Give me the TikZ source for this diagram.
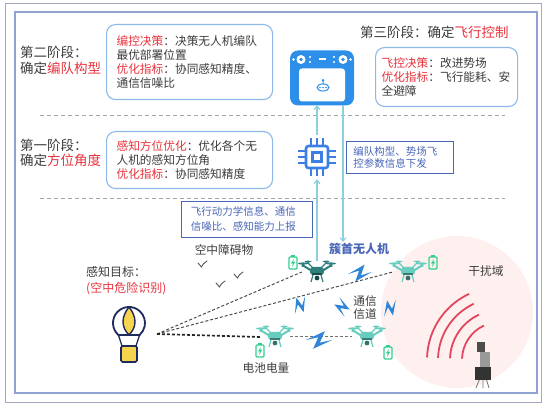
\documentclass[tikz,border=0pt]{standalone}
\usepackage{fontspec}
\setmainfont{Noto Sans CJK SC}
\usetikzlibrary{arrows.meta}

\definecolor{txtgray}{HTML}{3C3C3C}
\definecolor{keyred}{HTML}{E8323C}
\definecolor{boxblue}{HTML}{8DB9E8}
\definecolor{noteblue}{HTML}{4A66B8}
\definecolor{ctrlblue}{HTML}{2E8FE8}
\definecolor{chipblue}{HTML}{3B7FE6}
\definecolor{linkteal}{HTML}{8CCFDD}
\definecolor{leadteal}{HTML}{2E7E7C}
\definecolor{wingteal}{HTML}{66CDBF}
\definecolor{cellgreen}{HTML}{34CF8E}
\definecolor{boltblue}{HTML}{2F86D6}
\definecolor{wavered}{HTML}{E2465E}
\definecolor{framegray}{HTML}{A3AAC2}
\definecolor{frameblue}{HTML}{8FA2D2}
\definecolor{navy}{HTML}{1F2B5E}
\definecolor{gold}{HTML}{F6D44E}

\newcommand{\kw}[1]{\textcolor{keyred}{#1}}

\tikzset{
  stage/.style={align=left, inner sep=0pt, text=txtgray, font=\fontsize{13.5}{15.5}\selectfont},
  infobox/.style={draw=boxblue, line width=1.1pt, rounded corners=9pt, fill=white, align=left,
    inner xsep=10pt, inner ysep=4pt, text=txtgray, font=\fontsize{11.7}{14}\selectfont},
  note/.style={draw=noteblue, line width=0.9pt, fill=white, align=left, inner xsep=7pt,
    text=noteblue, font=\fontsize{10.5}{11.7}\selectfont},
  tag/.style={inner sep=1pt, text=txtgray, font=\fontsize{11.7}{13}\selectfont},
  divider/.style={draw=gray!70, line width=0.9pt, dash pattern=on 4pt off 3pt},
  link/.style={draw=linkteal, line width=1.1pt, -{Straight Barb[length=3.5pt,width=6pt]}},
  sight/.style={draw=black!70, line width=1pt, dash pattern=on 3pt off 2pt},
  dronebox/.style={minimum width=30pt, minimum height=21pt, inner sep=0pt},
  % quadcopter, coloured by the argument
  pics/quad/.style={code={
    \fill[#1] (-14,-8.5) ellipse (5 and 1.1) (14,-8.5) ellipse (5 and 1.1)
              (-9,-10.5) ellipse (3.5 and 0.9) (9,-10.5) ellipse (3.5 and 0.9);
    \draw[#1, line width=2pt] (-14,-6.5) -- (-5,-1) (14,-6.5) -- (5,-1);
    \draw[#1, line width=1.4pt] (-9,-9) -- (-3,-3) (9,-9) -- (3,-3);
    \fill[#1] (-15.3,-8.5) rectangle (-12.7,-5) (12.7,-8.5) rectangle (15.3,-5)
              (-10,-10.5) rectangle (-8,-8) (8,-10.5) rectangle (10,-8);
    \fill[#1, rounded corners=3pt] (-7,-5) rectangle (7,3);
    \fill[#1!60!black] (-5,1) rectangle (5,3.5);
    \draw[#1, line width=1.2pt] (-4,3) -- (-6,10) (4,3) -- (6,10);
    \fill[#1!55!black] (0,6) circle (2.4);
  }},
  pics/cell/.style={code={
    \draw[cellgreen, line width=1.1pt, rounded corners=1pt] (-4,-5) rectangle (4,7);
    \fill[cellgreen] (-1.8,-6.8) rectangle (1.8,-5);
    \fill[cellgreen] (1,-3) -- (-2.2,1.5) -- (-0.2,1.5) -- (-1,5) -- (2.2,0) -- (0.2,0) -- cycle;
  }},
  pics/bolt/.style={code={
    \fill[boltblue] (-12,-1) -- (6,-7.5) -- (0.5,2.5) -- (12,1) -- (-6,7.5) -- (-0.5,-2.5) -- cycle;
  }},
  pics/bird/.style={code={
    \draw[black!65, line width=0.9pt, line cap=round]
      (-4,-2) .. controls (-2,-0.5) .. (-0.5,2) .. controls (1,-1) .. (5,-4);
  }},
  pics/balloon/.style={code={
    \draw[navy, line width=1.3pt] (-10.6,11.9) -- (-7,23) (10.6,11.9) -- (7,23);
    \filldraw[fill=white, draw=navy, line width=1.8pt] (131.8:16) arc (131.8:408.2:16) -- cycle;
    \filldraw[fill=gold, draw=navy, line width=1.4pt]
      (0,-16) .. controls (-8,-6) and (-8,4) .. (0,11.9) .. controls (8,4) and (8,-6) .. (0,-16);
    \filldraw[fill=gold, draw=navy, line width=1.6pt, rounded corners=1.5pt] (-8,23) rectangle (8,39);
  }},
  pics/gamepad/.style={code={
    \fill[ctrlblue, rounded corners=8pt] (-32,-27) rectangle (32,28);
    \fill[white, rounded corners=3pt] (-23,-9) rectangle (23,24);
    \fill[white] (-21,-18) circle (4.5) (21,-18) circle (4.5)
                 (-28.5,-18) circle (1.3) (28.5,-18) circle (1.3)
                 (-12,-20.5) circle (1.1) (-12,-15.5) circle (1.1)
                 (12,-20.5) circle (1.1) (12,-15.5) circle (1.1);
    \fill[ctrlblue] (-21,-18) circle (1.8) (21,-18) circle (1.8);
    \fill[white] (-3.5,-19) rectangle (3.5,-17);
    \draw[ctrlblue, line width=1pt] (1,10) ellipse (6 and 3.5) (1,6.5) -- (1,3.5);
    \fill[ctrlblue] (-2,10) circle (0.9) (1,10) circle (0.9) (4,10) circle (0.9) (1,2.8) circle (1.4);
  }},
  pics/cpu/.style={code={
    \draw[chipblue, line width=2.6pt, rounded corners=2.5pt] (-11,-11) rectangle (11,11);
    \draw[chipblue, line width=2.4pt] (-4.5,-4.5) rectangle (4.5,4.5);
    \foreach \k in {-6,0,6}
      \draw[chipblue, line width=2.2pt] (\k,-12) -- (\k,-19) (\k,12) -- (\k,19)
                                        (-12,\k) -- (-19,\k) (12,\k) -- (19,\k);
  }},
  pics/jammer/.style={code={
    \draw[black!55, line width=0.8pt] (-3,13) -- (-7,23) (0,13) -- (0,23) (3,13) -- (6,23);
    \fill[black!40] (-3,-13) rectangle (7,8);
    \fill[black!70] (-6,-23) rectangle (2,-13);
    \fill[black!80] (-8,2) rectangle (8,15);
  }}
}

\begin{document}
\begin{tikzpicture}[x=1pt, y=-1pt]
\useasboundingbox (0,0) rectangle (544,406);

% frames
\draw[framegray, line width=0.8pt] (5,3) rectangle (541,402);
\draw[frameblue, line width=1.2pt] (15,12) rectangle (537,393);

% interference zone
\fill[red!6] (457,312) circle (76);
\foreach \r in {38,50,62,73}
  \draw[wavered, line width=1.8pt] (500,360) ++(-115:\r) arc (-115:-178:\r);
\pic at (483,365) {jammer};
\node[tag] (zone) at (486,271) {干扰域};

% stage dividers
\draw[divider] (40,115) -- (505,115);
\draw[divider] (40,198) -- (505,198);

% stage 2
\node[stage, anchor=west] (s2) at (20,60.5) {第二阶段：\\确定\kw{编队构型}};
\node[infobox, text width=146pt, minimum height=75pt, anchor=north west] (plan) at (106,24)
  {\kw{编控决策}：决策无人机编队\\最优部署位置\\\kw{优化指标}：协同感知精度、\\通信信噪比};

% stage 3
\node[stage, anchor=west] (s3) at (360,32) {第三阶段：确定\kw{飞行控制}};
\node[infobox, text width=130pt, inner xsep=6pt, minimum height=59pt, anchor=north west] (fly) at (375,47)
  {\kw{飞控决策}：改进势场\\\kw{优化指标}：飞行能耗、安\\全避障};

% stage 1
\node[stage, anchor=west] (s1) at (20,153) {第一阶段：\\确定\kw{方位角度}};
\node[infobox, text width=146pt, minimum height=57pt, anchor=north west] (aim) at (106,131)
  {\kw{感知方位优化}：优化各个无\\人机的感知方位角\\\kw{优化指标}：协同感知精度};

% ground station and processor
\node[minimum width=64pt, minimum height=55pt, inner sep=0pt] (ctrl) at (322,77.5) {};
\pic at (ctrl) {gamepad};
\node[minimum size=44pt, inner sep=0pt] (chip) at (317,157) {};
\pic at (chip) {cpu};

\node[note, text width=93pt, minimum height=32pt, anchor=north west] (down) at (346,141)
  {编队构型、势场飞\\控参数信息下发};
\node[note, text width=112pt, inner xsep=9.5pt, minimum height=36pt, anchor=north west,
  font=\fontsize{10.5}{15}\selectfont] (up) at (181,201)
  {飞行动力学信息、通信\\信噪比、感知能力上报};

% swarm
\node[dronebox] (uavlead) at (317,272) {};
\node[dronebox] (uavr) at (408,272) {};
\node[dronebox] (uavbl) at (275,337) {};
\node[dronebox] (uavbr) at (367,337) {};
\node[tag, font=\bfseries\fontsize{12}{13}\selectfont, text=noteblue] (headtag) at (359,249) {簇首无人机};

% uplink / downlink
\coordinate (feed) at (343,0);
\draw[link] (uavlead.north) -- (chip.south);
\draw[link] (chip.north) -- (ctrl.south -| chip.north);
\draw[link] (ctrl.south -| feed) -- (headtag.north -| feed);

% target and lines of sight
\node[minimum width=34pt, minimum height=56pt, inner sep=0pt] (target) at (129,334) {};
\pic at (129,323) {balloon};
\node[tag, align=left, anchor=west, font=\fontsize{12}{16}\selectfont] (goal) at (85,281)
  {感知目标：\\\kw{(空中危险识别)}};
\coordinate (fan) at (157,334);
\path[draw,sight] (fan) edge (uavlead.west);
\path[draw,sight] (fan) edge (uavr.west);
\path[draw,sight,draw=black!85,line width=1.7pt] (fan) edge (uavbl.west);
\path[draw,sight,draw=black!55] (uavbl.east) edge (uavbr.west);

\pic at (uavlead) {quad=leadteal};
\pic at (uavr) {quad=wingteal};
\pic at (uavbl) {quad=wingteal};
\pic at (uavbr) {quad=wingteal};

\pic at (293,262) {cell};
\pic at (433,262) {cell};
\pic at (260,350) {cell};
\pic at (388,352) {cell};

% links between drones
\pic[rotate=10] at (360,273) {bolt};
\pic[rotate=65, scale=0.85] at (300,305) {bolt};
\pic[rotate=-70, scale=0.85] at (342,307) {bolt};
\pic[rotate=60, scale=0.85] at (390,308) {bolt};
\pic[rotate=5, scale=1.1] at (319,340) {bolt};
\node[tag, align=center, font=\fontsize{11.7}{13}\selectfont] (chan) at (365,308) {通信\\信道};

% obstacles
\node[tag] (obst) at (224,250) {空中障碍物};
\pic at (202,265) {bird};
\pic at (238,276) {bird};
\pic at (220,285) {bird};

\node[tag] (power) at (266,368) {电池电量};
\end{tikzpicture}
\end{document}
